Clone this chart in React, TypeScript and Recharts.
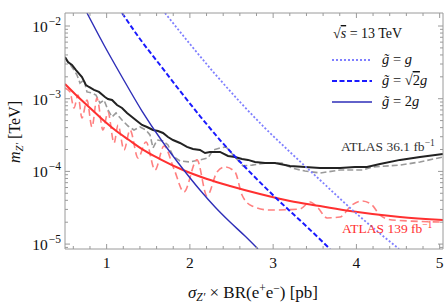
import React from 'react';
import { LineChart, Line, XAxis, YAxis } from 'recharts';

// ---------- data ----------
const xMajorTicks = [1, 2, 3, 4, 5];
const xMinorTicks = [0.6, 0.8, 1.2, 1.4, 1.6, 1.8, 2.2, 2.4, 2.6, 2.8, 3.2, 3.4, 3.6, 3.8, 4.2, 4.4, 4.6, 4.8];
const yMajorTicks = [1e-5, 1e-4, 1e-3, 1e-2];
const yMinorTicks = [
  9e-6,
  2e-5, 3e-5, 4e-5, 5e-5, 6e-5, 7e-5, 8e-5, 9e-5,
  2e-4, 3e-4, 4e-4, 5e-4, 6e-4, 7e-4, 8e-4, 9e-4,
  2e-3, 3e-3, 4e-3, 5e-3, 6e-3, 7e-3, 8e-3, 9e-3,
];
const xDomain = [0.5, 5.04];
const yDomain = [8.56e-6, 1.51e-2];

// g~ = 2g (solid blue)
const g2X = [0.764, 0.968, 1.185, 1.425, 1.665, 1.917, 2.121, 2.302, 2.482, 2.662, 2.818];
const g2Y = [1.51e-2, 5.48e-3, 1.99e-3, 6.77e-4, 2.62e-4, 1.08e-4, 5.55e-5, 3.24e-5, 2.01e-5, 1.29e-5, 8.56e-6];
// g~ = sqrt2 g (dashed blue)
const gs2X = [1.185, 1.401, 1.641, 1.881, 2.121, 2.362, 2.662, 3.022, 3.383, 3.683];
const gs2Y = [1.51e-2, 6.63e-3, 2.91e-3, 1.28e-3, 5.78e-4, 2.7e-4, 1.15e-4, 4.44e-5, 1.83e-5, 8.56e-6];
// g~ = g (dotted light blue)
const g1X = [1.701, 2.001, 2.302, 2.602, 2.902, 3.202, 3.563, 4.007, 4.512];
const g1Y = [1.51e-2, 5.65e-3, 2.19e-3, 9.01e-4, 3.95e-4, 1.85e-4, 7.61e-5, 2.59e-5, 8.56e-6];

// ATLAS 36.1 fb-1 observed (black)
const atlas36X = [0.5, 0.536, 0.584, 0.632, 0.704, 0.752, 0.788, 0.848, 0.908, 0.98, 1.016, 1.065, 1.125, 1.185, 1.245, 1.305, 1.365, 1.425, 1.485, 1.557, 1.617, 1.677, 1.737, 1.797, 1.881, 1.965, 2.037, 2.121, 2.182, 2.242, 2.302, 2.362, 2.458, 2.542, 2.626, 2.698, 2.782, 2.902, 3.022, 3.202, 3.383, 3.563, 3.803, 3.983, 4.127, 4.283, 4.524, 4.764, 5.04];
const atlas36Y = [3.75e-3, 3.2e-3, 2.91e-3, 2.48e-3, 1.99e-3, 1.54e-3, 1.45e-3, 1.32e-3, 1.24e-3, 1.055e-3, 9.91e-4, 9.6e-4, 8.19e-4, 7.45e-4, 6.36e-4, 5.6e-4, 4.93e-4, 4.35e-4, 4.08e-4, 3.71e-4, 3.59e-4, 3.38e-4, 2.97e-4, 2.7e-4, 2.46e-4, 2.17e-4, 2.03e-4, 1.97e-4, 1.79e-4, 1.85e-4, 1.85e-4, 1.85e-4, 1.63e-4, 1.58e-4, 1.48e-4, 1.44e-4, 1.35e-4, 1.3e-4, 1.3e-4, 1.19e-4, 1.15e-4, 1.11e-4, 1.11e-4, 1.15e-4, 1.15e-4, 1.26e-4, 1.44e-4, 1.58e-4, 1.74e-4];
// ATLAS 36.1 fb-1 expected (gray dashed)
const atlas36ExpX = [0.5, 0.548, 0.608, 0.644, 0.68, 0.728, 0.764, 0.824, 0.872, 0.92, 0.968, 1.016, 1.065, 1.113, 1.185, 1.257, 1.329, 1.401, 1.473, 1.521, 1.557, 1.605, 1.677, 1.737, 1.797, 1.881, 2.001, 2.121, 2.218, 2.278, 2.362, 2.434, 2.542, 2.638, 2.746, 2.902, 3.106, 3.226, 3.383, 3.563, 3.803, 4.079, 4.187, 4.524, 4.764, 5.04];
const atlas36ExpY = [3.63e-3, 3.1e-3, 2.48e-3, 2.12e-3, 1.64e-3, 1.81e-3, 1.24e-3, 1.2e-3, 1.12e-3, 8.73e-4, 9.6e-4, 6.99e-4, 5.6e-4, 6.36e-4, 5.09e-4, 4.21e-4, 3.71e-4, 4.08e-4, 3.71e-4, 3.17e-4, 2.1e-4, 2.7e-4, 2.62e-4, 2.31e-4, 1.63e-4, 1.39e-4, 1.35e-4, 1.44e-4, 1.53e-4, 1.97e-4, 2.1e-4, 2.17e-4, 1.58e-4, 1.19e-4, 1.22e-4, 1.3e-4, 1.3e-4, 1.11e-4, 1.01e-4, 9.51e-5, 1.045e-4, 1.045e-4, 1.15e-4, 1.22e-4, 1.35e-4, 1.58e-4];
// ATLAS 139 fb-1 (red solid)
const atlas139X = [0.5, 0.62, 0.788, 0.944, 1.101, 1.269, 1.425, 1.641, 1.917, 2.206, 2.482, 2.842, 3.202, 3.563, 3.923, 4.524, 5.04];
const atlas139Y = [1.59e-3, 1.16e-3, 7.69e-4, 5.26e-4, 3.71e-4, 2.7e-4, 2.03e-4, 1.48e-4, 1.045e-4, 7.86e-5, 6.3e-5, 4.89e-5, 3.92e-5, 3.34e-5, 2.85e-5, 2.36e-5, 2.15e-5];
// ATLAS 139 fb-1 oscillating (red dashed)
const atlas139ExpX = [0.5, 0.56, 0.608, 0.656, 0.704, 0.764, 0.824, 0.884, 0.956, 1.016, 1.089, 1.137, 1.209, 1.281, 1.377, 1.473, 1.581, 1.689, 1.809, 1.929, 2.085, 2.206, 2.326, 2.422, 2.542, 2.626, 2.746, 2.962, 3.322, 3.443, 3.539, 3.647, 3.803, 3.947, 4.067, 4.187, 4.283, 4.428, 5.04];
const atlas139ExpY = [1.4e-3, 1.24e-3, 7.45e-4, 1.12e-3, 5.43e-4, 9.6e-4, 4.08e-4, 1.02e-3, 3.71e-4, 6.57e-4, 2.46e-4, 4.35e-4, 1.97e-4, 3.71e-4, 1.53e-4, 2.54e-4, 1.045e-4, 2.24e-4, 1.08e-4, 5.21e-5, 1.44e-4, 4.59e-5, 9.81e-5, 1.15e-4, 9.81e-5, 4.73e-5, 3.34e-5, 2.94e-5, 3.04e-5, 3.79e-5, 3.14e-5, 2.29e-5, 2.36e-5, 3.45e-5, 3.92e-5, 3.45e-5, 2.51e-5, 2.15e-5, 2.01e-5];

const zip = (xs: number[], ys: number[]) =>
  xs.slice(0, Math.min(xs.length, ys.length)).map((x, i) => ({ x, y: ys[i] }));

const FONT = "'Liberation Serif', 'DejaVu Serif', serif";
const FRAME = '#9a9a9a';
const allXTicks = [...xMinorTicks, ...xMajorTicks].sort((a, b) => a - b);
const allYTicks = [...yMinorTicks, ...yMajorTicks].sort((a, b) => a - b);

const isXMajor = (v: number) => Math.abs(v - Math.round(v)) < 1e-6;
const isYMajor = (v: number) => Math.abs(Math.log10(v) - Math.round(Math.log10(v))) < 1e-6;

const BottomTick = (p: any) => {
  const v = p.payload.value;
  const major = isXMajor(v);
  return (
    <g>
      <line x1={p.x} x2={p.x} y1={p.y} y2={p.y - (major ? 5 : 3)} stroke={FRAME} strokeWidth={1} />
      {major && (
        <text x={p.x} y={p.y + 19} textAnchor="middle" fontFamily={FONT} fontSize={15.5} fill="#111">
          {v}
        </text>
      )}
    </g>
  );
};
const TopTick = (p: any) => {
  const major = isXMajor(p.payload.value);
  return <line x1={p.x} x2={p.x} y1={p.y} y2={p.y + (major ? 5 : 3)} stroke={FRAME} strokeWidth={1} />;
};
const LeftTick = (p: any) => {
  const v = p.payload.value;
  const major = isYMajor(v);
  const e = Math.round(Math.log10(v));
  return (
    <g>
      <line x1={p.x} x2={p.x + (major ? 5 : 3)} y1={p.y} y2={p.y} stroke={FRAME} strokeWidth={1} />
      {major && (
        <text x={p.x - 4} y={p.y + 6} textAnchor="end" fontFamily={FONT} fontSize={15.5} fill="#111">
          10<tspan dx={1} dy={-7} fontSize={11.5}>{'\u2212' + Math.abs(e)}</tspan>
        </text>
      )}
    </g>
  );
};
const RightTick = (p: any) => {
  const major = isYMajor(p.payload.value);
  return <line x1={p.x} x2={p.x - (major ? 5 : 3)} y1={p.y} y2={p.y} stroke={FRAME} strokeWidth={1} />;
};

const Overlay = () => (
  <svg
    width={447}
    height={305}
    style={{ position: 'absolute', left: 0, top: 0, pointerEvents: 'none' }}
    fontFamily={FONT}
  >
    {/* axis titles */}
    <text x={20} y={132} transform="rotate(-90 20 132)" textAnchor="middle" fontSize={16} fill="#111">
      <tspan fontStyle="italic">m</tspan>
      <tspan fontStyle="italic" fontSize={11} dy={3}>{'Z\u2032'}</tspan>
      <tspan dy={-3}>{' [TeV]'}</tspan>
    </text>
    <text x={253} y={298} textAnchor="middle" fontSize={17} fill="#111">
      <tspan fontStyle="italic">{'\u03C3'}</tspan>
      <tspan fontStyle="italic" fontSize={11.5} dy={3}>{'Z\u2032'}</tspan>
      <tspan dy={-3}>{' \u00D7 BR(e'}</tspan>
      <tspan fontSize={11.5} dy={-6}>+</tspan>
      <tspan dy={6}>e</tspan>
      <tspan fontSize={11.5} dy={-6}>{'\u2212'}</tspan>
      <tspan dy={6}>{') [pb]'}</tspan>
    </text>

    {/* legend */}
    <text x={333} y={38} fontSize={14} fill="#111">
      {'\u221A'}
      <tspan fontStyle="italic" textDecoration="overline">s</tspan>
      {' = 13 TeV'}
    </text>
    <line x1={332} x2={372} y1={60} y2={60} stroke="#7f7fff" strokeWidth={1.8} strokeDasharray="2 2" />
    <line x1={332} x2={372} y1={81} y2={81} stroke="#1a1aff" strokeWidth={2} strokeDasharray="5 2.5" />
    <line x1={332} x2={372} y1={102} y2={102} stroke="#2e2eb8" strokeWidth={1.5} />
    <text x={382} y={64} fontSize={14.5} fill="#111">
      <tspan fontStyle="italic">{'g\u0303'}</tspan>
      {' = '}
      <tspan fontStyle="italic">g</tspan>
    </text>
    <text x={382} y={85} fontSize={14.5} fill="#111">
      <tspan fontStyle="italic">{'g\u0303'}</tspan>
      {' = \u221A'}
      <tspan textDecoration="overline">2</tspan>
      <tspan fontStyle="italic">g</tspan>
    </text>
    <text x={382} y={106} fontSize={14.5} fill="#111">
      <tspan fontStyle="italic">{'g\u0303'}</tspan>
      {' = 2'}
      <tspan fontStyle="italic">g</tspan>
    </text>

    {/* series annotations */}
    <text x={341} y={151} fontSize={13.5} fill="#333">
      ATLAS 36.1 fb<tspan fontSize={9.5} dy={-5}>{'\u22121'}</tspan>
    </text>
    <text x={342} y={233} fontSize={13.5} fill="#ff3030">
      ATLAS 139 fb<tspan fontSize={9.5} dy={-5}>{'\u22121'}</tspan>
    </text>
  </svg>
);

export default function App() {
  return (
    <div style={{ position: 'absolute', left: 0, top: 0, width: 447, height: 305, background: '#fff' }}>
      <LineChart width={447} height={305} margin={{ top: 8, right: 0, bottom: 26, left: 5 }}>
        <XAxis
          dataKey="x"
          type="number"
          domain={xDomain}
          allowDataOverflow
          ticks={allXTicks}
          interval={0}
          tickSize={0}
          tickMargin={0}
          tickLine={false}
          height={30}
          axisLine={{ stroke: FRAME }}
          tick={<BottomTick />}
        />
        <XAxis
          xAxisId="top"
          orientation="top"
          dataKey="x"
          type="number"
          domain={xDomain}
          allowDataOverflow
          ticks={allXTicks}
          interval={0}
          tickSize={0}
          tickMargin={0}
          tickLine={false}
          height={5}
          axisLine={{ stroke: FRAME }}
          tick={<TopTick />}
        />
        <YAxis
          dataKey="y"
          type="number"
          scale="log"
          domain={yDomain}
          allowDataOverflow
          ticks={allYTicks}
          interval={0}
          tickSize={0}
          tickMargin={0}
          tickLine={false}
          width={60}
          axisLine={{ stroke: FRAME }}
          tick={<LeftTick />}
        />
        <YAxis
          yAxisId="right"
          orientation="right"
          dataKey="y"
          type="number"
          scale="log"
          domain={yDomain}
          allowDataOverflow
          ticks={allYTicks}
          interval={0}
          tickSize={0}
          tickMargin={0}
          tickLine={false}
          width={4}
          axisLine={{ stroke: FRAME }}
          tick={<RightTick />}
        />

        <Line data={zip(atlas36ExpX, atlas36ExpY)} dataKey="y" type="linear" stroke="#9a9a9a" strokeWidth={1.6} strokeDasharray="6 3" dot={false} activeDot={false} isAnimationActive={false} />
        <Line data={zip(atlas36X, atlas36Y)} dataKey="y" type="linear" stroke="#222" strokeWidth={2} dot={false} activeDot={false} isAnimationActive={false} />
        <Line data={zip(atlas139ExpX, atlas139ExpY)} dataKey="y" type="monotone" stroke="#ff8080" strokeWidth={1.6} strokeDasharray="7 4" dot={false} activeDot={false} isAnimationActive={false} />
        <Line data={zip(atlas139X, atlas139Y)} dataKey="y" type="monotone" stroke="#ff3030" strokeWidth={2} dot={false} activeDot={false} isAnimationActive={false} />
        <Line data={zip(g1X, g1Y)} dataKey="y" type="monotone" stroke="#7f7fff" strokeWidth={1.8} strokeDasharray="2 2" dot={false} activeDot={false} isAnimationActive={false} />
        <Line data={zip(gs2X, gs2Y)} dataKey="y" type="monotone" stroke="#1a1aff" strokeWidth={2} strokeDasharray="5 2.5" dot={false} activeDot={false} isAnimationActive={false} />
        <Line data={zip(g2X, g2Y)} dataKey="y" type="monotone" stroke="#2e2eb8" strokeWidth={1.4} dot={false} activeDot={false} isAnimationActive={false} />
      </LineChart>
      <Overlay />
    </div>
  );
}
